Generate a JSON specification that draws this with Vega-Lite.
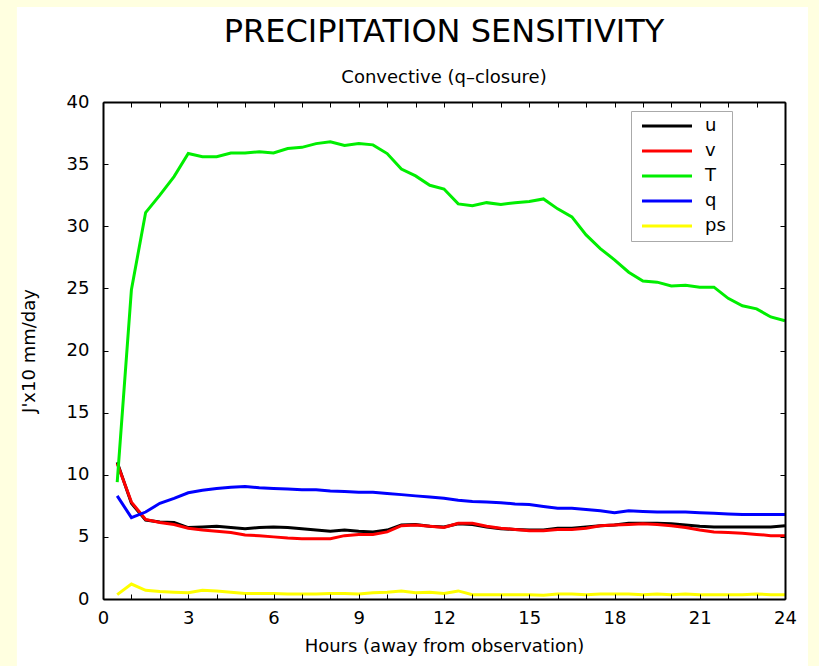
{
  "$schema": "https://vega.github.io/schema/vega-lite/v6.json",
  "width": 682,
  "height": 497,
  "autosize": {"type": "none"},
  "padding": {"left": 103, "top": 102, "right": 34, "bottom": 67},
  "background": "#FFFFE0",
  "config": {"view": {"stroke": null}, "font": "DejaVu Sans"},
  "title": {
    "text": "PRECIPITATION SENSITIVITY",
    "subtitle": "Convective (q–closure)",
    "font": "DejaVu Sans",
    "fontSize": 32,
    "fontWeight": "normal",
    "color": "black",
    "subtitleFont": "DejaVu Sans",
    "subtitleFontSize": 18,
    "subtitleColor": "black",
    "subtitlePadding": 20,
    "anchor": "middle",
    "frame": "group",
    "offset": 14,
    "dy": 95
  },
  "datasets": {
    "sensitivity": [
      {"h": 0.5, "u": 11.0, "v": 10.9, "T": 9.4, "q": 8.3, "ps": 0.35},
      {"h": 1.0, "u": 7.7, "v": 7.8, "T": 24.9, "q": 6.55, "ps": 1.2},
      {"h": 1.5, "u": 6.35, "v": 6.4, "T": 31.1, "q": 7.0, "ps": 0.7},
      {"h": 2.0, "u": 6.2, "v": 6.15, "T": 32.5, "q": 7.7, "ps": 0.6},
      {"h": 2.5, "u": 6.15, "v": 6.0, "T": 34.0, "q": 8.1, "ps": 0.55},
      {"h": 3.0, "u": 5.75, "v": 5.7, "T": 35.85, "q": 8.55, "ps": 0.5},
      {"h": 3.5, "u": 5.8, "v": 5.55, "T": 35.6, "q": 8.75, "ps": 0.7},
      {"h": 4.0, "u": 5.85, "v": 5.45, "T": 35.6, "q": 8.9, "ps": 0.65},
      {"h": 4.5, "u": 5.75, "v": 5.35, "T": 35.9, "q": 9.0, "ps": 0.55},
      {"h": 5.0, "u": 5.65, "v": 5.15, "T": 35.9, "q": 9.05, "ps": 0.45},
      {"h": 5.5, "u": 5.75, "v": 5.1, "T": 36.0, "q": 8.95, "ps": 0.45},
      {"h": 6.0, "u": 5.8, "v": 5.0, "T": 35.9, "q": 8.9, "ps": 0.45},
      {"h": 6.5, "u": 5.75, "v": 4.9, "T": 36.25, "q": 8.85, "ps": 0.4},
      {"h": 7.0, "u": 5.65, "v": 4.85, "T": 36.35, "q": 8.8, "ps": 0.4},
      {"h": 7.5, "u": 5.55, "v": 4.85, "T": 36.65, "q": 8.8, "ps": 0.4},
      {"h": 8.0, "u": 5.45, "v": 4.85, "T": 36.8, "q": 8.7, "ps": 0.45},
      {"h": 8.5, "u": 5.55, "v": 5.1, "T": 36.5, "q": 8.65, "ps": 0.45},
      {"h": 9.0, "u": 5.45, "v": 5.2, "T": 36.65, "q": 8.6, "ps": 0.4},
      {"h": 9.5, "u": 5.4, "v": 5.2, "T": 36.55, "q": 8.6, "ps": 0.5},
      {"h": 10.0, "u": 5.55, "v": 5.4, "T": 35.85, "q": 8.5, "ps": 0.55},
      {"h": 10.5, "u": 5.95, "v": 5.9, "T": 34.6, "q": 8.4, "ps": 0.65},
      {"h": 11.0, "u": 6.0, "v": 5.95, "T": 34.05, "q": 8.3, "ps": 0.5},
      {"h": 11.5, "u": 5.85, "v": 5.85, "T": 33.3, "q": 8.2, "ps": 0.55},
      {"h": 12.0, "u": 5.8, "v": 5.75, "T": 33.0, "q": 8.1, "ps": 0.45},
      {"h": 12.5, "u": 6.05, "v": 6.1, "T": 31.8, "q": 7.95, "ps": 0.65},
      {"h": 13.0, "u": 6.0, "v": 6.1, "T": 31.65, "q": 7.85, "ps": 0.35},
      {"h": 13.5, "u": 5.8, "v": 5.85, "T": 31.9, "q": 7.8, "ps": 0.35},
      {"h": 14.0, "u": 5.65, "v": 5.7, "T": 31.75, "q": 7.75, "ps": 0.35},
      {"h": 14.5, "u": 5.6, "v": 5.6, "T": 31.9, "q": 7.65, "ps": 0.35},
      {"h": 15.0, "u": 5.55, "v": 5.5, "T": 32.0, "q": 7.6, "ps": 0.35},
      {"h": 15.5, "u": 5.55, "v": 5.5, "T": 32.2, "q": 7.45, "ps": 0.3},
      {"h": 16.0, "u": 5.7, "v": 5.6, "T": 31.4, "q": 7.3, "ps": 0.4},
      {"h": 16.5, "u": 5.7, "v": 5.6, "T": 30.75, "q": 7.3, "ps": 0.4},
      {"h": 17.0, "u": 5.8, "v": 5.7, "T": 29.3, "q": 7.2, "ps": 0.35},
      {"h": 17.5, "u": 5.9, "v": 5.9, "T": 28.2, "q": 7.1, "ps": 0.4},
      {"h": 18.0, "u": 5.95, "v": 5.95, "T": 27.3, "q": 6.95, "ps": 0.4},
      {"h": 18.5, "u": 6.1, "v": 6.0, "T": 26.3, "q": 7.1, "ps": 0.4},
      {"h": 19.0, "u": 6.1, "v": 6.05, "T": 25.6, "q": 7.05, "ps": 0.35},
      {"h": 19.5, "u": 6.1, "v": 6.0, "T": 25.5, "q": 7.0, "ps": 0.4},
      {"h": 20.0, "u": 6.05, "v": 5.9, "T": 25.2, "q": 7.0, "ps": 0.35},
      {"h": 20.5, "u": 5.95, "v": 5.75, "T": 25.25, "q": 7.0, "ps": 0.4},
      {"h": 21.0, "u": 5.85, "v": 5.55, "T": 25.1, "q": 6.95, "ps": 0.35},
      {"h": 21.5, "u": 5.8, "v": 5.4, "T": 25.1, "q": 6.9, "ps": 0.35},
      {"h": 22.0, "u": 5.8, "v": 5.35, "T": 24.2, "q": 6.85, "ps": 0.35},
      {"h": 22.5, "u": 5.8, "v": 5.3, "T": 23.6, "q": 6.8, "ps": 0.35},
      {"h": 23.0, "u": 5.8, "v": 5.2, "T": 23.35, "q": 6.8, "ps": 0.4},
      {"h": 23.5, "u": 5.8, "v": 5.1, "T": 22.7, "q": 6.8, "ps": 0.35},
      {"h": 24.0, "u": 5.9, "v": 5.1, "T": 22.4, "q": 6.8, "ps": 0.35}
    ]
  },
  "layer": [
    {
      "data": {"values": [{}]},
      "mark": {"type": "rect", "fill": "white", "clip": false},
      "encoding": {
        "x": {
          "datum": -3.03,
          "type": "quantitative",
          "scale": {"domain": [0, 24], "nice": false, "zero": false},
          "axis": {
            "orient": "top",
            "values": [0,1,2,3,4,5,6,7,8,9,10,11,12,13,14,15,16,17,18,19,20,21,22,23,24],
            "labels": false,
            "title": null,
            "grid": false,
            "tickSize": -5,
            "tickColor": "black",
            "tickWidth": 1,
            "domainColor": "black",
            "domainWidth": 2,
            "zindex": 1
          }
        },
        "x2": {"datum": 24.81},
        "y": {
          "datum": 47.65,
          "type": "quantitative",
          "scale": {"domain": [0, 40], "nice": false, "zero": false},
          "axis": {
            "orient": "right",
            "values": [0,5,10,15,20,25,30,35,40],
            "labels": false,
            "title": null,
            "grid": false,
            "tickSize": -5,
            "tickColor": "black",
            "tickWidth": 1,
            "domainColor": "black",
            "domainWidth": 2,
            "zindex": 1
          }
        },
        "y2": {"datum": -5.5}
      }
    },
    {
      "data": {"name": "sensitivity"},
      "transform": [{"fold": ["u", "v", "T", "q", "ps"], "as": ["series", "value"]}],
      "mark": {"type": "line", "strokeWidth": 3, "clip": false},
      "encoding": {
        "x": {
          "field": "h",
          "type": "quantitative",
          "scale": {"domain": [0, 24], "nice": false, "zero": false},
          "axis": {
            "orient": "bottom",
            "values": [0,1,2,3,4,5,6,7,8,9,10,11,12,13,14,15,16,17,18,19,20,21,22,23,24],
            "labelExpr": "datum.value % 3 === 0 ? datum.label : ''",
            "labelOverlap": false,
            "labelFlush": false,
            "labelFontSize": 18,
            "labelColor": "black",
            "labelPadding": 15,
            "title": "Hours (away from observation)",
            "titleFontSize": 18,
            "titleFontWeight": "normal",
            "titleColor": "black",
            "titlePadding": 10,
            "grid": false,
            "tickSize": -5,
            "tickColor": "black",
            "tickWidth": 1,
            "domainColor": "black",
            "domainWidth": 2,
            "zindex": 1
          }
        },
        "y": {
          "field": "value",
          "type": "quantitative",
          "scale": {"domain": [0, 40], "nice": false, "zero": false},
          "axis": {
            "orient": "left",
            "values": [0,5,10,15,20,25,30,35,40],
            "labelFontSize": 18,
            "labelColor": "black",
            "labelPadding": 19,
            "title": "J'x10 mm/day",
            "titleFontSize": 18,
            "titleFontWeight": "normal",
            "titleColor": "black",
            "titlePadding": 28,
            "grid": false,
            "tickSize": -5,
            "tickColor": "black",
            "tickWidth": 1,
            "domainColor": "black",
            "domainWidth": 2,
            "zindex": 1
          }
        },
        "color": {
          "field": "series",
          "type": "nominal",
          "scale": {
            "domain": ["u", "v", "T", "q", "ps"],
            "range": ["#000000", "#FF0000", "#00EE00", "#0000FF", "#FFFF00"]
          },
          "legend": {
            "orient": "none",
            "legendX": 528,
            "legendY": 9,
            "title": null,
            "symbolType": "M-0.8,0H9.2",
            "symbolSize": 100,
            "symbolStrokeWidth": 3,
            "labelFontSize": 18,
            "labelColor": "black",
            "labelOffset": 50,
            "rowPadding": 7,
            "padding": 6,
            "strokeColor": "#AAAAAA",
            "fillColor": "white",
            "zindex": 1
          }
        }
      }
    }
  ]
}
